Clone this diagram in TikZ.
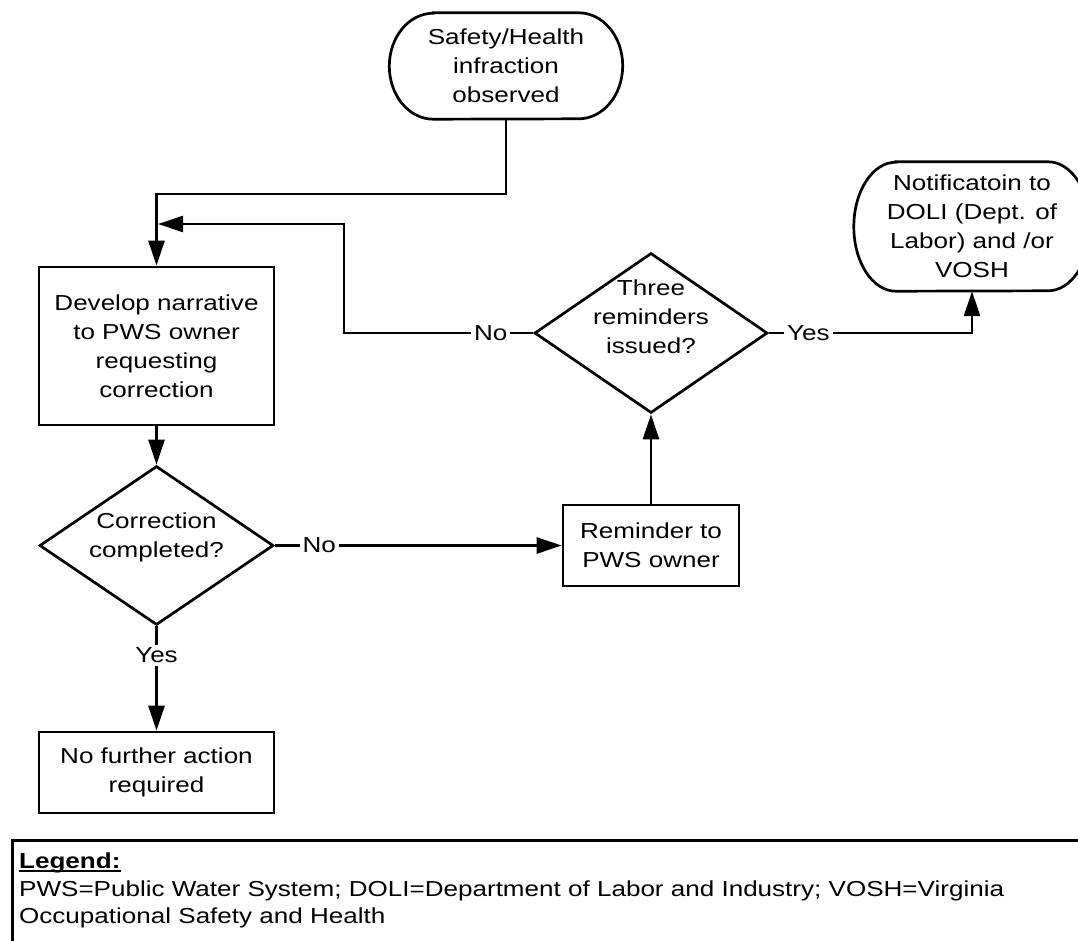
\documentclass[tikz,border=0pt]{standalone}
\usepackage{fontspec}
\setmainfont{Liberation Sans}[FakeStretch=1.2]
\usetikzlibrary{arrows.meta,shapes.geometric}

\newcommand\flowfont{\fontsize{21.7pt}{29pt}\selectfont}
% terminator outline with elliptical ends around a node's box
% #1 node name, #2 horizontal radius, #3 vertical radius
\newcommand\termoutline[3]{%
  \draw[shapeline] ([xshift=#2]#1.north west) -- ([xshift=-#2]#1.north east)
    arc[start angle=90, end angle=-90, x radius=#2, y radius=#3]
    -- ([xshift=#2]#1.south west)
    arc[start angle=270, end angle=90, x radius=#2, y radius=#3] -- cycle;}

\begin{document}
\begin{tikzpicture}[x=1pt, y=-1pt,
  shapeline/.style={line width=2.7pt, black},
  term/.style={inner sep=0pt, align=center, font=\flowfont},
  box/.style={draw, line width=2.7pt, rectangle, inner sep=0pt, align=center, font=\flowfont},
  decision/.style={draw, diamond, line width=2.7pt, inner sep=0pt},
  txt/.style={inner sep=0pt, align=center, font=\flowfont},
  conn/.style={line width=2.7pt, -{Triangle[length=25pt, width=16pt]}},
  lab/.style={fill=white, inner sep=3pt, font=\flowfont},
  legtxt/.style={inner sep=0pt, font=\flowfont}]

\clip (0,0) rectangle (1078,940);
\fill[white] (0,0) rectangle (1078,940);

% terminators
\node[term, minimum width=233pt, minimum height=106pt] (start) at (506,66)
  {Safety/Health\\infraction\\observed};
\termoutline{start}{44pt}{53pt}
\node[term, minimum width=236pt, minimum height=129pt] (notify) at (972,226.5)
  {Notificatoin to\\DOLI (Dept. of\\Labor) and /or\\VOSH};
\termoutline{notify}{42pt}{64.5pt}

% process boxes
\node[box, minimum width=235pt, minimum height=158pt] (develop) at (156.5,346)
  {Develop narrative\\to PWS owner\\requesting\\correction};
\node[box, minimum width=176pt, minimum height=81pt] (remind) at (651,545.5)
  {Reminder to\\PWS owner};
\node[box, minimum width=235pt, minimum height=81pt] (nofurther) at (156.5,772.5)
  {No further action\\required};

% decisions
\node[decision, minimum width=234pt, minimum height=159pt] (corr) at (156.5,545.5) {};
\node[txt] (corr-text) at ([yshift=8pt]corr.center) {Correction\\completed?};
\node[decision, minimum width=233pt, minimum height=160pt] (three) at (651,333) {};
\node[txt] (three-text) at ([yshift=16pt]three.center) {Three\\reminders\\issued?};

% bend points
\coordinate (j1) at (156.5,194);
\coordinate (loop) at (344,224);
\coordinate (merge) at (158,224);

% connectors
\draw[conn] (start.south) |- (j1) -- (develop.north);
\draw[conn] (three.west) -| node[lab, pos=0.112] (no-loop) {No} (loop) -- (merge);
\draw[conn] (develop.south) -- (corr.north);
\draw[conn] (corr.east) -- node[lab, pos=0.155] (no-corr) {No} (remind.west);
\draw[conn] (corr.south) -- node[lab, pos=0.28] (yes-corr) {Yes} (nofurther.north);
\draw[conn] (remind.north) -- (three.south);
\draw[conn] (three.east) -| node[lab, pos=0.097] (yes-three) {Yes} (notify.south);

% legend
\node[draw, line width=2.7pt, anchor=north west, minimum width=1100pt,
  minimum height=140pt, inner sep=0pt] (legend) at (11,839) {};
\node[legtxt, anchor=base west] (legend-title) at (19,868) {\bfseries Legend:};
\draw[line width=1.6pt] ([yshift=-3pt]legend-title.base west) -- ([yshift=-3pt]legend-title.base east);
\node[legtxt, anchor=base west] (legend-line1) at (19,896)
  {PWS=Public Water System; DOLI=Department of Labor and Industry; VOSH=Virginia};
\node[legtxt, anchor=base west] (legend-line2) at (19,923)
  {Occupational Safety and Health};
\end{tikzpicture}
\end{document}
